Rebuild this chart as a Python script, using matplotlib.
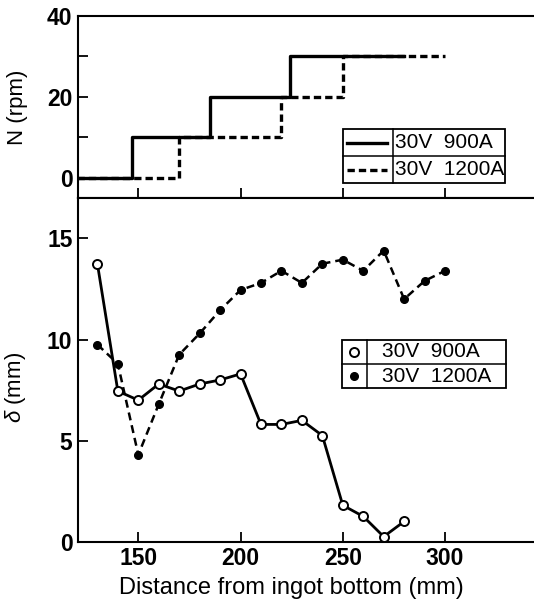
import numpy as np
import matplotlib.pyplot as plt
from matplotlib.lines import Line2D
from matplotlib.patches import Rectangle

plt.rcParams['font.family'] = ['Liberation Sans', 'DejaVu Sans']
plt.rcParams['mathtext.fontset'] = 'custom'
plt.rcParams['mathtext.it'] = 'Liberation Sans:italic'
plt.rcParams['mathtext.rm'] = 'Liberation Sans'

# rotation speed steps (N, rpm)
n_x_900 = [120, 147, 185, 224, 280]
n_y_900 = [0, 10, 20, 30, 30]
n_x_1200 = [120, 170, 220, 250, 300]
n_y_1200 = [0, 10, 20, 30, 30]

# delta vs distance from ingot bottom
d_x_900 = [130, 140, 150, 160, 170, 180, 190, 200, 210, 220, 230, 240, 250, 260, 270, 280]
d_y_900 = [13.75, 7.45, 7.0, 7.8, 7.45, 7.8, 8.0, 8.3, 5.8, 5.8, 6.0, 5.25, 1.8, 1.25, 0.25, 1.0]
d_x_1200 = [130, 140, 150, 160, 170, 180, 190, 200, 210, 220, 230, 240, 250, 260, 270, 280, 290, 300]
d_y_1200 = [9.75, 8.8, 4.3, 6.8, 9.25, 10.3, 11.45, 12.45, 12.8, 13.4, 12.8, 13.75, 13.95, 13.4, 14.4, 12.0, 12.9, 13.4]

labels = ['30V  900A', '30V  1200A']
x_ticks = [150, 200, 250, 300]

fig = plt.figure(figsize=(5.34, 6.03), dpi=100)
ax1 = fig.add_axes([0.146, 0.6716, 0.854, 0.302])
ax2 = fig.add_axes([0.146, 0.1017, 0.854, 0.5699])

tick_font = dict(fontsize=16.5, fontweight='bold')

for ax in (ax1, ax2):
    ax.set_xlim(120.5, 343.5)
    ax.spines['right'].set_visible(False)
    for s in ('left', 'top', 'bottom'):
        ax.spines[s].set_linewidth(1.5)
    ax.set_xticks(x_ticks)
    ax.tick_params(direction='in', length=7, width=1.3, pad=4)
    ax.tick_params(which='minor', direction='in', length=7, width=1.3)
    ax.tick_params(top=False, right=False)

# ---- top panel: N (rpm) ----
ax1.step(n_x_1200, n_y_1200, where='post', color='k', lw=2.4, dashes=(2.2, 1.2), zorder=2)
ax1.step(n_x_900, n_y_900, where='post', color='k', lw=2.4, zorder=3)
ax1.set_ylim(-5, 40)
ax1.set_yticks([0, 20, 40])
ax1.set_yticks([10, 30], minor=True)
ax1.set_yticklabels(['0', '20', '40'], **tick_font)
ax1.set_xticklabels([])
ax1.set_ylabel('N (rpm)', fontsize=16)
ax1.yaxis.set_label_coords(-0.11, 0.5)

# ---- bottom panel: delta (mm) ----
ax2.plot(d_x_1200, d_y_1200, color='k', lw=1.8, dashes=(3.2, 2.0),
         marker='o', markersize=5.5, markerfacecolor='k', zorder=2)
ax2.plot(d_x_900, d_y_900, color='k', lw=2.0,
         marker='o', markersize=6.5, markerfacecolor='white',
         markeredgewidth=1.4, zorder=3)
ax2.set_ylim(0, 17)
ax2.set_yticks([0, 5, 10, 15])
ax2.set_yticklabels(['0', '5', '10', '15'], **tick_font)
ax2.set_xticklabels([str(t) for t in x_ticks], **tick_font)
ax2.set_xlabel('Distance from ingot bottom (mm)', fontsize=17)
ax2.xaxis.set_label_coords(0.467, -0.104)
ax2.set_ylabel(r'$\delta$ (mm)', fontsize=16)
ax2.yaxis.set_label_coords(-0.11, 0.45)


def boxed_legend(ax, x0, y0, w, h, split, handles, texts, text_pad):
    """Two-row legend drawn as a ruled table."""
    tr = ax.transAxes
    ax.add_patch(Rectangle((x0, y0), w, h, transform=tr, facecolor='white',
                           edgecolor='k', lw=1.3, zorder=5))
    xs = x0 + w * split
    ax.add_line(Line2D([xs, xs], [y0, y0 + h], transform=tr, color='k', lw=1.1, zorder=6))
    ax.add_line(Line2D([x0, x0 + w], [y0 + h / 2, y0 + h / 2], transform=tr,
                       color='k', lw=1.1, zorder=6))
    for i, (style, txt) in enumerate(zip(handles, texts)):
        yc = y0 + h * (0.75 - 0.5 * i)
        style = dict(style)
        hx = style.pop('x')
        ax.add_line(Line2D(hx, [yc] * len(hx), transform=tr, zorder=7, **style))
        ax.text(xs + text_pad, yc, txt, transform=tr, fontsize=15,
                ha='left', va='center', zorder=7)


boxed_legend(ax1, 0.581, 0.082, 0.355, 0.297, 0.307,
             [dict(x=[0.591, 0.677], color='k', lw=2.4),
              dict(x=[0.591, 0.677], color='k', lw=2.4, dashes=(2.2, 1.2))],
             labels, 0.005)
boxed_legend(ax2, 0.578, 0.447, 0.36, 0.14, 0.152,
             [dict(x=[0.605], color='k', lw=0, marker='o', markersize=6.5,
                   markerfacecolor='white', markeredgewidth=1.4),
              dict(x=[0.605], color='k', lw=0, marker='o', markersize=5.5,
                   markerfacecolor='k')],
             labels, 0.035)

fig.savefig('out.png', dpi=100)
